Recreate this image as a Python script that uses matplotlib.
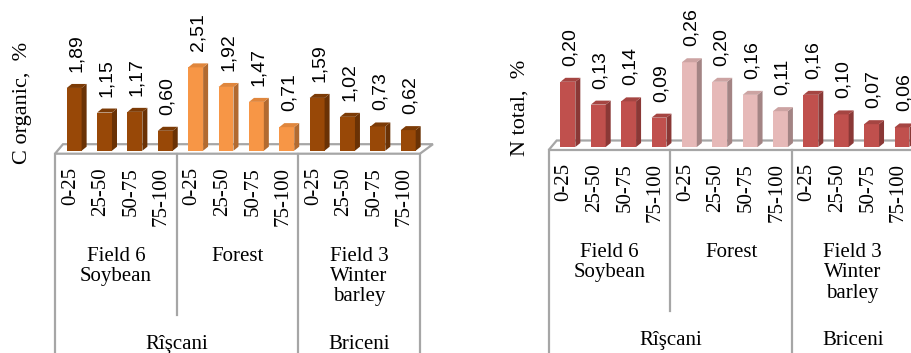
import numpy as np
import matplotlib
matplotlib.use("Agg")
import matplotlib.pyplot as plt
from matplotlib import transforms
from matplotlib.patches import Polygon

# soil profile data: 3 sites x 4 depth layers (cm)
depths = ["0-25", "25-50", "50-75", "75-100"]
sites = ["Field 6\nSoybean", "Forest", "Field 3\nWinter\nbarley"]
regions = ["Rîşcani", "Briceni"]
region_sites = [2, 1]

c_organic = [1.89, 1.15, 1.17, 0.60, 2.51, 1.92, 1.47, 0.71, 1.59, 1.02, 0.73, 0.62]
n_total = [0.20, 0.13, 0.14, 0.09, 0.26, 0.20, 0.16, 0.11, 0.16, 0.10, 0.07, 0.06]

# (front, side, top) colours per site
c_colors = [("#984807", "#6A3205", "#7C3B06"),
            ("#F79646", "#B26A30", "#E0863C"),
            ("#984807", "#6A3205", "#7C3B06")]
n_colors = [("#C0504D", "#8A3836", "#A54542"),
            ("#E6B9B8", "#A38484", "#CCA3A2"),
            ("#C0504D", "#8A3836", "#A54542")]

W, H = 912, 353
GREY = "#A6A6A6"
SERIF = "Liberation Serif"
SANS = "Liberation Sans"

fig = plt.figure(figsize=(W / 100, H / 100), dpi=100)


def make_axes(left_px, base_px, px_per_unit, slot_px=30.37):
    # base_px: distance of the bar baseline from the top edge, in pixels
    width = 12 * slot_px
    ax = fig.add_axes([left_px / W, (H - base_px) / H, width / W, base_px / H])
    ax.set_xlim(-0.5, 11.5)
    ax.set_ylim(0, base_px / px_per_unit)
    ax.set_axis_off()
    return ax, slot_px, px_per_unit, base_px


def shifted(ax, dx, dy):
    return transforms.offset_copy(ax.transData, fig=fig, x=dx, y=dy, units="dots")


def draw_panel(ax, sx, sy, base_px, values, colors, ylabel, ylabel_xy):
    n = len(values)
    x = np.arange(n)
    w = 0.49
    ddx, ddy = 5 / sx, 4 / sy

    # floor
    floor = Polygon([(-0.5 - 4 / sx, -3 / sy), (11.5 - 3.5 / sx, -3 / sy),
                     (11.5 + 9.5 / sx, 6.5 / sy), (-0.5 + 4 / sx, 6.5 / sy)],
                    closed=True, facecolor="white", edgecolor=GREY, lw=1.6,
                    zorder=1, clip_on=False)
    ax.add_patch(floor)

    face = [colors[i // 4][0] for i in range(n)]
    side = [colors[i // 4][1] for i in range(n)]
    top = [colors[i // 4][2] for i in range(n)]
    ax.bar(x, values, width=w, color=face, zorder=3, clip_on=False)
    for xi, v, sc, tc in zip(x, values, side, top):
        xr, xl = xi + w / 2, xi - w / 2
        ax.add_patch(Polygon([(xr, 0), (xr, v), (xr + ddx, v + ddy), (xr + ddx, ddy)],
                             closed=True, facecolor=sc, edgecolor="none",
                             zorder=3, clip_on=False))
        ax.add_patch(Polygon([(xl, v), (xr, v), (xr + ddx, v + ddy), (xl + ddx, v + ddy)],
                             closed=True, facecolor=tc, edgecolor="none",
                             zorder=3, clip_on=False))
        ax.text(xi, v, f"{v:.2f}".replace(".", ","), rotation=90,
                ha="center", va="bottom", fontsize=14, family=SANS,
                transform=shifted(ax, 2, 16), zorder=4)

    # multi-level category axis
    bottom = -(H - base_px + 2) / sy
    for gx in [-0.5, 3.5, 7.5, 11.5]:
        end = bottom if gx != 3.5 else -164 / sy
        ax.plot([gx, gx], [-3 / sy, end], color=GREY, lw=1.6,
                transform=shifted(ax, -3.7, 0), clip_on=False, zorder=2)

    lbl = shifted(ax, -3.7, -16.3)
    for i in range(n):
        ax.text(i, 0, depths[i % 4], rotation=90, ha="center", va="top",
                fontsize=15, family=SERIF, transform=lbl)

    site_t = shifted(ax, -3.7, -96)
    for k, s in enumerate(sites):
        ax.text(4 * k + 1.5, 0, s, ha="center", va="top", fontsize=15,
                family=SERIF, linespacing=1.1, transform=site_t)

    reg_t = shifted(ax, -3.7, -184)
    start = 0
    for r, cnt in zip(regions, region_sites):
        mid = (4 * start - 0.5 + 4 * (start + cnt) - 0.5) / 2
        ax.text(mid, 0, r, ha="center", va="top", fontsize=15,
                family=SERIF, transform=reg_t)
        start += cnt

    fig.text(ylabel_xy[0] / W, 1 - ylabel_xy[1] / H, ylabel, rotation=90,
             ha="center", va="center", fontsize=16, family=SERIF)


ax1, sx1, sy1, b1 = make_axes(59, 150.7, 33.2)
draw_panel(ax1, sx1, sy1, b1, c_organic, c_colors, "C organic,  %", (23, 103))

ax2, sx2, sy2, b2 = make_axes(552.7, 147, 326)
draw_panel(ax2, sx2, sy2, b2, n_total, n_colors, "N total,  %", (520, 108))

fig.savefig("out.png", dpi=100, facecolor="white")
